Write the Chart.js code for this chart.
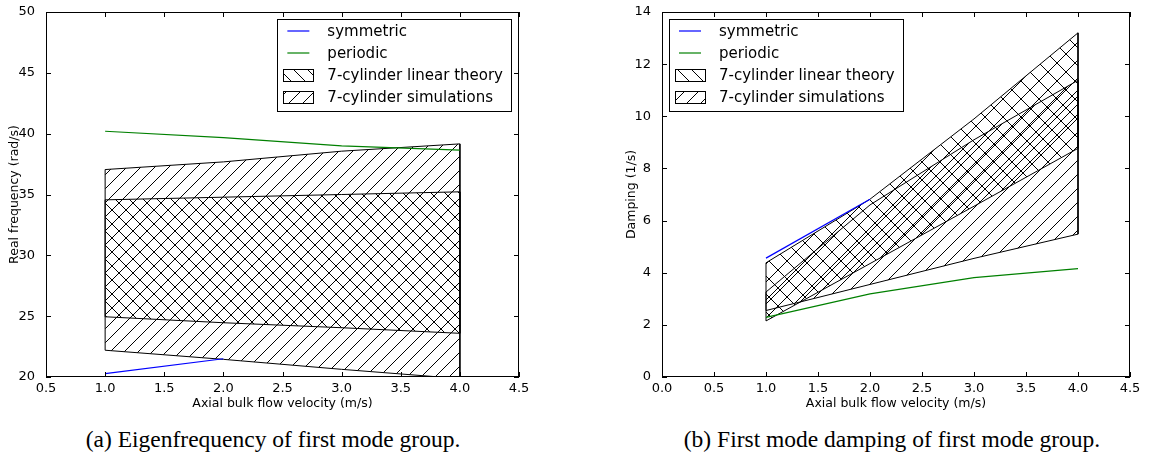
<!DOCTYPE html>
<html>
<head>
<meta charset="utf-8">
<script src="https://cdn.jsdelivr.net/npm/chart.js@4.4.0/dist/chart.umd.min.js"></script>
<style>
    body { margin: 0; background: #fff; width: 1153px; height: 471px; position: relative; overflow: hidden; }
    .panel { position: absolute; top: 0; }
    .caption {
        position: absolute; top: 426px; transform: translateX(-50%);
        font-family: "Liberation Serif", "Times New Roman", serif; font-size: 23.5px;
        color: #000; white-space: nowrap;
    }
</style>
</head>
<body>
<div class="panel" style="left:0"><canvas id="freqChart" width="560" height="420"></canvas></div>
<div class="panel" style="left:580px"><canvas id="dampChart" width="573" height="420"></canvas></div>
<div class="caption" style="left:273px">(a) Eigenfrequency of first mode group.</div>
<div class="caption" style="left:892px">(b) First mode damping of first mode group.</div>

<script>
// -------- DATA --------
const velocity = [1.0, 2.0, 3.0, 4.0];
const symVelocity = [1.0, 2.0];

// (a) real frequency, rad/s
const freqSymmetric = [20.27, 21.5];
const freqPeriodic = [40.2, 39.68, 39.0, 38.64];
const freqTheoryHigh = [34.56, 34.78, 35.0, 35.22];
const freqTheoryLow = [24.95, 24.46, 24.05, 23.59];
const freqSimHigh = [37.05, 37.68, 38.56, 39.16];
const freqSimLow = [22.2, 21.45, 20.63, 19.87];

// (b) damping, 1/s
const dampSymmetric = [4.56, 6.82];
const dampPeriodic = [2.29, 3.19, 3.81, 4.16];
const dampTheoryHigh = [4.38, 6.82, 9.9, 13.2];
const dampTheoryLow = [2.15, 4.35, 6.55, 8.77];
const dampSimHigh = [3.26, 6.6, 9.1, 11.38];
const dampSimLow = [2.55, 3.55, 4.55, 5.48];

const xTitle = "Axial bulk flow velocity (m/s)";
const legendNames = ["symmetric", "periodic", "7-cylinder linear theory", "7-cylinder simulations"];

Chart.defaults.font.family = "'DejaVu Sans', sans-serif";
Chart.defaults.color = "#000";

// -------- HELPERS --------
const pts = (xs, ys) => xs.map((x, i) => ({ x, y: ys[i] }));

function outline(xs, hi, lo) {
    const p = pts(xs, hi);
    for (let i = xs.length - 1; i >= 0; i--) p.push({ x: xs[i], y: lo[i] });
    p.push(p[0]);
    return p;
}

// dir: "/", "\\" or "x"
function hatch(ctx, dir, size) {
    const c = document.createElement("canvas");
    c.width = c.height = size;
    const g = c.getContext("2d");
    g.strokeStyle = "#000";
    g.lineWidth = 1;
    g.beginPath();
    if (dir === "/" || dir === "x") {
        g.moveTo(0, size); g.lineTo(size, 0);
        g.moveTo(-2, 2); g.lineTo(2, -2);
        g.moveTo(size - 2, size + 2); g.lineTo(size + 2, size - 2);
    }
    if (dir === "\\" || dir === "x") {
        g.moveTo(0, 0); g.lineTo(size, size);
        g.moveTo(size - 2, -2); g.lineTo(size + 2, 2);
        g.moveTo(-2, size - 2); g.lineTo(2, size + 2);
    }
    g.stroke();
    return ctx.createPattern(c, "repeat");
}

// frame + inward ticks on all four sides
const framePlugin = {
    id: "frame",
    afterDatasetsDraw(chart) {
        const { ctx, chartArea: a, scales: { x, y } } = chart;
        ctx.save();
        ctx.strokeStyle = "#000";
        ctx.lineWidth = 1;
        ctx.strokeRect(a.left + 0.5, a.top + 0.5, a.right - a.left - 1, a.bottom - a.top - 1);
        ctx.beginPath();
        x.ticks.forEach(t => {
            const px = Math.round(x.getPixelForValue(t.value)) + 0.5;
            ctx.moveTo(px, a.bottom); ctx.lineTo(px, a.bottom - 5);
            ctx.moveTo(px, a.top); ctx.lineTo(px, a.top + 5);
        });
        y.ticks.forEach(t => {
            const py = Math.round(y.getPixelForValue(t.value)) + 0.5;
            ctx.moveTo(a.left, py); ctx.lineTo(a.left + 5, py);
            ctx.moveTo(a.right, py); ctx.lineTo(a.right - 5, py);
        });
        ctx.stroke();
        ctx.restore();
    }
};

// matplotlib-style legend box inside the axes
const boxLegendPlugin = {
    id: "boxLegend",
    afterDraw(chart, args, opts) {
        const { ctx, chartArea: a } = chart;
        const items = chart.data.datasets.filter(d => d.legendKind);
        ctx.save();
        ctx.font = "15px 'DejaVu Sans', sans-serif";
        const textW = Math.max(...items.map(d => ctx.measureText(d.label).width));
        const w = 50 + textW + 8;
        const h = 92;
        const left = opts.side === "right" ? a.right - 8 - w : a.left + 7;
        const top = a.top + 7;
        ctx.fillStyle = "#fff";
        ctx.fillRect(left, top, w, h);
        ctx.strokeStyle = "#000";
        ctx.lineWidth = 1;
        ctx.strokeRect(Math.round(left) + 0.5, top + 0.5, Math.round(w), h);

        items.forEach((d, i) => {
            const cy = top + 12 + i * 22;
            if (d.legendKind === "line") {
                ctx.strokeStyle = d.borderColor;
                ctx.lineWidth = 1.2;
                ctx.beginPath();
                ctx.moveTo(left + 10, cy); ctx.lineTo(left + 32, cy);
                ctx.stroke();
            } else {
                ctx.fillStyle = d.patchFill;
                ctx.fillRect(left + 6, cy - 6, 30, 12);
                ctx.strokeStyle = "#000";
                ctx.lineWidth = 1;
                ctx.strokeRect(Math.round(left) + 6.5, Math.round(cy - 6) + 0.5, 30, 12);
            }
            ctx.fillStyle = "#000";
            ctx.textBaseline = "middle";
            ctx.textAlign = "left";
            ctx.fillText(d.label, left + 50, cy + 1);
        });
        ctx.restore();
    }
};

function makeChart(id, cfg) {
    const canvas = document.getElementById(id);
    const ctx = canvas.getContext("2d");
    const theoryIcon = hatch(ctx, "\\", 14);
    const theoryFill = hatch(ctx, cfg.theoryHatch, cfg.theorySize);
    const simFill = hatch(ctx, "/", 14);

    const datasets = [
        { label: legendNames[0], legendKind: "line", data: pts(symVelocity, cfg.symmetric),
          borderColor: "#0000ff", borderWidth: 1.2, fill: false },
        { label: legendNames[1], legendKind: "line", data: pts(velocity, cfg.periodic),
          borderColor: "#008000", borderWidth: 1.2, fill: false },
        // linear theory band
        { label: legendNames[2], legendKind: "patch", patchFill: theoryIcon,
          data: outline(velocity, cfg.theoryHigh, cfg.theoryLow),
          borderColor: "#000", borderWidth: 1, fill: false },
        { label: "", data: pts(velocity, cfg.theoryHigh), borderColor: "transparent",
          backgroundColor: theoryFill, fill: "+1" },
        { label: "", data: pts(velocity, cfg.theoryLow), borderColor: "transparent", fill: false },
        // simulation band
        { label: legendNames[3], legendKind: "patch", patchFill: simFill,
          data: outline(velocity, cfg.simHigh, cfg.simLow),
          borderColor: "#000", borderWidth: 1, fill: false },
        { label: "", data: pts(velocity, cfg.simHigh), borderColor: "transparent",
          backgroundColor: simFill, fill: "+1" },
        { label: "", data: pts(velocity, cfg.simLow), borderColor: "transparent", fill: false }
    ];

    const tickFont = { size: 13 };
    const titleFont = { size: 12.5 };
    return new Chart(ctx, {
        type: "line",
        data: { datasets },
        options: {
            responsive: false,
            animation: false,
            events: [],
            layout: { padding: cfg.padding },
            elements: { point: { radius: 0 }, line: { tension: 0 } },
            plugins: {
                legend: { display: false },
                tooltip: { enabled: false },
                boxLegend: { side: cfg.legendSide }
            },
            scales: {
                x: {
                    type: "linear", min: cfg.xMin, max: 4.5,
                    ticks: { stepSize: 0.5, autoSkip: false, maxRotation: 0, padding: -4,
                             font: tickFont, callback: v => v.toFixed(1) },
                    grid: { display: false },
                    border: { display: false },
                    title: { display: true, text: xTitle, font: titleFont, padding: { top: 0, bottom: 5.5 } },
                    afterFit: s => { s.height = 40; }
                },
                y: {
                    min: cfg.yMin, max: cfg.yMax,
                    ticks: { stepSize: cfg.yStep, padding: 3, font: tickFont },
                    grid: { display: false },
                    border: { display: false },
                    title: { display: true, text: cfg.yTitle, font: titleFont, padding: { top: cfg.yTitlePad, bottom: 0 } },
                    afterFit: s => { s.width = cfg.yWidth; }
                }
            }
        },
        plugins: [framePlugin, boxLegendPlugin]
    });
}

makeChart("freqChart", {
    symmetric: freqSymmetric, periodic: freqPeriodic,
    theoryHigh: freqTheoryHigh, theoryLow: freqTheoryLow,
    simHigh: freqSimHigh, simLow: freqSimLow,
    xMin: 0.5, yMin: 20, yMax: 50, yStep: 5,
    yTitle: "Real frequency (rad/s)", yTitlePad: 7.5, yWidth: 46,
    padding: { left: 0, top: 12, right: 41, bottom: 3 },
    legendSide: "right", theoryHatch: "\\", theorySize: 14
});

makeChart("dampChart", {
    symmetric: dampSymmetric, periodic: dampPeriodic,
    theoryHigh: dampTheoryHigh, theoryLow: dampTheoryLow,
    simHigh: dampSimHigh, simLow: dampSimLow,
    xMin: 0, yMin: 0, yMax: 14, yStep: 2,
    yTitle: "Damping (1/s)", yTitlePad: 4, yWidth: 42,
    padding: { left: 40, top: 12, right: 23, bottom: 3 },
    legendSide: "left", theoryHatch: "x", theorySize: 18
});
</script>
</body>
</html>
